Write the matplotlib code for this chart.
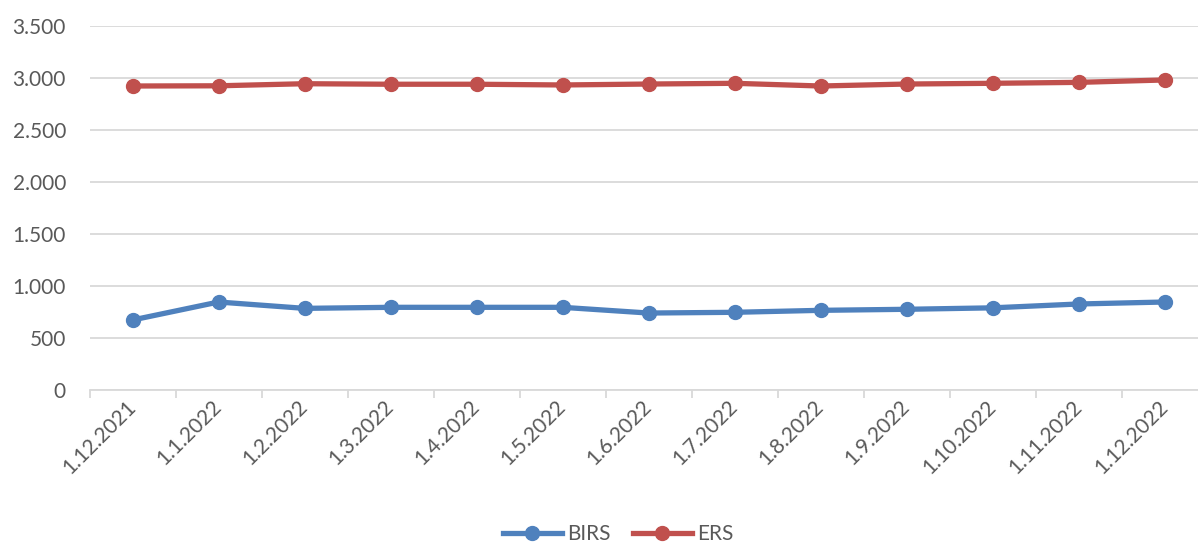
import matplotlib
matplotlib.use('Agg')
import matplotlib.pyplot as plt
import numpy as np

# --- 数据 ---
dates = ['1.12.2021', '1.1.2022', '1.2.2022', '1.3.2022', '1.4.2022', '1.5.2022',
         '1.6.2022', '1.7.2022', '1.8.2022', '1.9.2022', '1.10.2022', '1.11.2022',
         '1.12.2022']
birs = [673, 846, 785, 795, 795, 795, 740, 747, 766, 776, 790, 827, 846]
ers = [2923, 2925, 2945, 2940, 2940, 2933, 2942, 2949, 2923, 2942, 2949, 2958, 2981]
yticks = [0, 500, 1000, 1500, 2000, 2500, 3000, 3500]
ytick_labels = ['0', '500', '1.000', '1.500', '2.000', '2.500', '3.000', '3.500']

plt.rcParams['font.family'] = ['Lato', 'DejaVu Sans']
txt_color = '#595959'
grid_color = '#D9D9D9'
fs = 15

W, H = 1198, 543
fig = plt.figure(figsize=(W / 100, H / 100), dpi=100)
# 绘图区 (像素换算)
left, right, top, bottom = 89.5, 1207.5, 26, 390
ax = fig.add_axes([left / W, (H - bottom) / H, (right - left) / W, (bottom - top) / H])

x = np.arange(len(dates))
ax.plot(x, birs, '-o', color='#4F81BD', lw=3.8, ms=10, label='BIRS', clip_on=False)
ax.plot(x, ers, '-o', color='#C0504D', lw=3.8, ms=10, label='ERS', clip_on=False)

ax.set_xlim(-0.5, len(dates) - 0.5)
ax.set_ylim(0, 3500)
ax.set_yticks(yticks)
ax.set_yticklabels(ytick_labels)
ax.yaxis.grid(True, color=grid_color, lw=1.3)
ax.set_axisbelow(True)
for s in ['top', 'right', 'left']:
    ax.spines[s].set_visible(False)
ax.spines['bottom'].set_color(grid_color)
ax.spines['bottom'].set_linewidth(1.3)

ax.tick_params(axis='y', length=0, pad=17, labelsize=fs, labelcolor=txt_color)
# 分类边界刻度
ax.set_xticks(np.arange(len(dates) + 1) - 0.5)
ax.set_xticklabels([])
ax.tick_params(axis='x', which='major', length=6, width=1.3, color=grid_color)
ax.set_xticks(x, minor=True)
ax.set_xticklabels(dates, minor=True, rotation=45, ha='right', va='center',
                   rotation_mode='anchor')
ax.tick_params(axis='x', which='minor', length=0, pad=10, labelsize=fs,
               labelcolor=txt_color)

leg = fig.legend(loc='center', bbox_to_anchor=(0.516, 1 - 534 / H), ncol=2, frameon=False,
                 fontsize=fs, handlelength=2.8, columnspacing=1.1, handletextpad=0.25)
for t in leg.get_texts():
    t.set_color(txt_color)

fig.savefig('out.png', dpi=100)
